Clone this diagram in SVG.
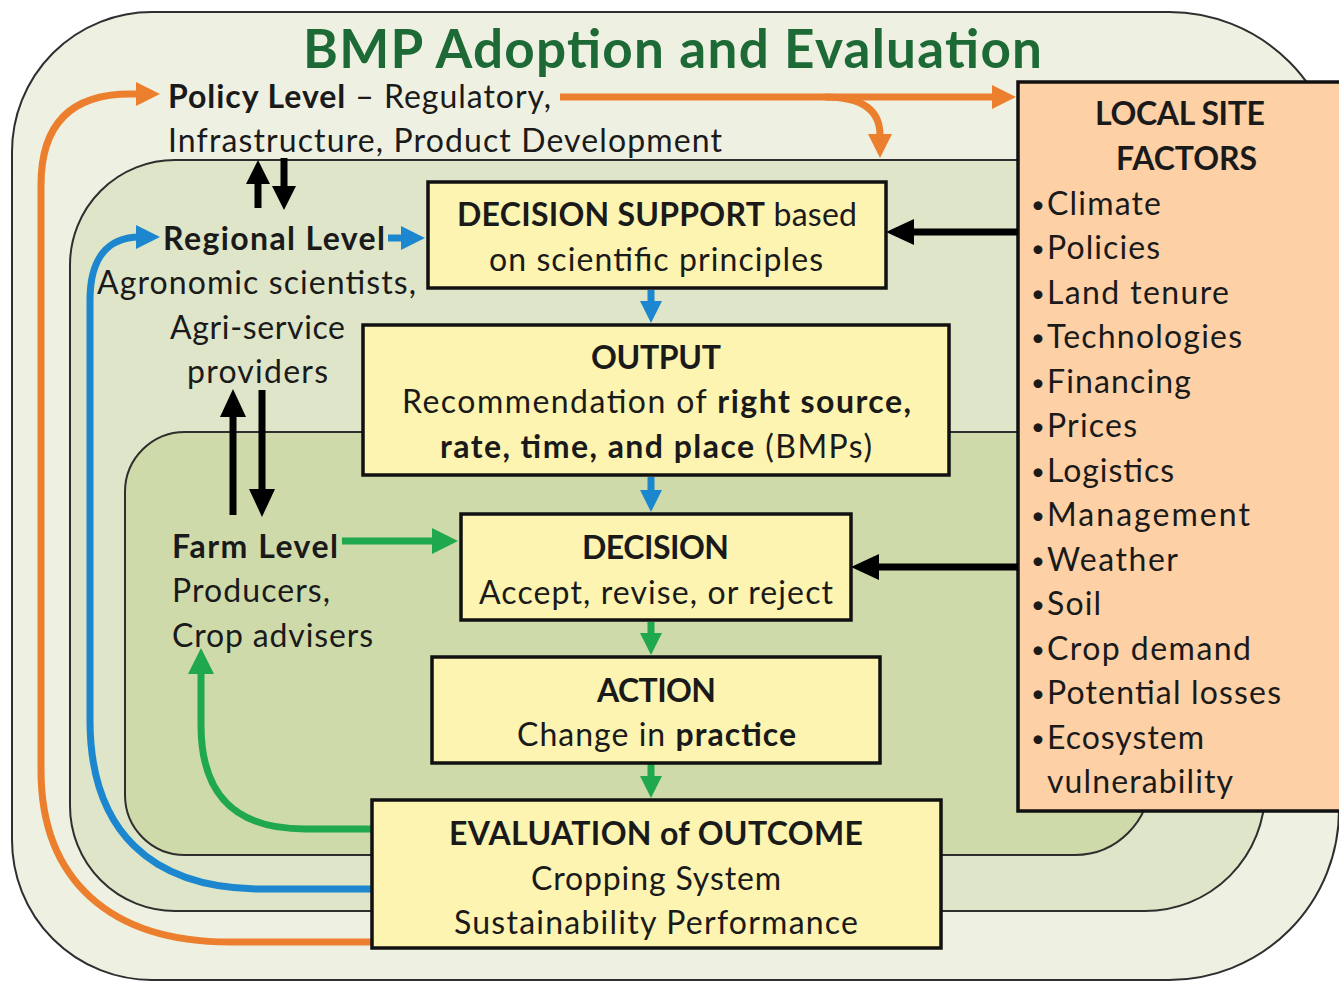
<svg xmlns="http://www.w3.org/2000/svg" width="1339" height="981" viewBox="0 0 1339 981">
  <style>
    .frame { stroke: #2e2e2e; stroke-width: 2; }
    .box { fill: #fcf4b0; stroke: #111; stroke-width: 3.5; }
    .site { fill: #fdd0a6; stroke: #111; stroke-width: 3.5; }
    .t { font-family: Lato, "Open Sans", "Liberation Sans", sans-serif; font-size: 32px; fill: #1a1a1a; }
    .b { font-weight: bold; }
    .title { font-family: Lato, "Open Sans", "Liberation Sans", sans-serif; font-size: 53px; font-weight: bold; fill: #1d6a36; }
    .bul { font-size: 24px; }
    .or { fill: none; stroke: #ec7f2e; stroke-width: 7; }
    .bl { fill: none; stroke: #1c87cf; stroke-width: 7; }
    .gr { fill: none; stroke: #1fa84c; stroke-width: 7; }
    .bk { fill: none; stroke: #000; stroke-width: 7; }
  </style>
  <defs>
    <marker id="ahOrange" viewBox="0 0 24 24" refX="12" refY="12" markerWidth="24" markerHeight="24" markerUnits="userSpaceOnUse" orient="auto">
      <path d="M0,0 L24,12 L0,24 Z" fill="#ec7f2e"/>
    </marker>
    <marker id="ahBlue" viewBox="0 0 24 24" refX="12" refY="12" markerWidth="24" markerHeight="24" markerUnits="userSpaceOnUse" orient="auto">
      <path d="M0,0 L24,12 L0,24 Z" fill="#1c87cf"/>
    </marker>
    <marker id="ahBlueSm" viewBox="0 0 22 22" refX="11" refY="11" markerWidth="22" markerHeight="22" markerUnits="userSpaceOnUse" orient="auto">
      <path d="M0,0 L22,11 L0,22 Z" fill="#1c87cf"/>
    </marker>
    <marker id="ahGreen" viewBox="0 0 26 26" refX="13" refY="13" markerWidth="26" markerHeight="26" markerUnits="userSpaceOnUse" orient="auto">
      <path d="M0,0 L26,13 L0,26 Z" fill="#1fa84c"/>
    </marker>
    <marker id="ahGreenSm" viewBox="0 0 22 22" refX="11" refY="11" markerWidth="22" markerHeight="22" markerUnits="userSpaceOnUse" orient="auto">
      <path d="M0,0 L22,11 L0,22 Z" fill="#1fa84c"/>
    </marker>
    <marker id="ahBlack" viewBox="0 0 28 26" refX="14" refY="13" markerWidth="28" markerHeight="26" markerUnits="userSpaceOnUse" orient="auto">
      <path d="M0,0 L28,13 L0,26 Z" fill="#000"/>
    </marker>
    <marker id="ahBlackSm" viewBox="0 0 24 24" refX="12" refY="12" markerWidth="24" markerHeight="24" markerUnits="userSpaceOnUse" orient="auto">
      <path d="M0,0 L24,12 L0,24 Z" fill="#000"/>
    </marker>
  </defs>

  <rect width="1339" height="981" fill="#ffffff"/>

  <!-- nested level frames: policy, regional, farm -->
  <g id="policy-frame">
    <path class="frame" fill="#eef0e1" d="M152,12 H1169 A170,170 0 0 1 1339,182 V810 A170,170 0 0 1 1169,980 H152 A140,140 0 0 1 12,840 V152 A140,140 0 0 1 152,12 Z"/>
  </g>
  <g id="regional-frame">
    <path class="frame" fill="#dee5c8" d="M175,160 H1145 A120,120 0 0 1 1265,280 V791 A120,120 0 0 1 1145,911 H175 A105,105 0 0 1 70,806 V265 A105,105 0 0 1 175,160 Z"/>
  </g>
  <g id="farm-frame">
    <path class="frame" fill="#cfdaab" d="M185,432 H1075 A75,75 0 0 1 1150,507 V780 A75,75 0 0 1 1075,855 H185 A60,60 0 0 1 125,795 V492 A60,60 0 0 1 185,432 Z"/>
  </g>

  <text class="title" x="303" y="68" textLength="739">BMP Adoption and Evaluation</text>

  <!-- level labels -->
  <g id="policy-level">
    <text class="t" x="168" y="108" textLength="383"><tspan class="b">Policy Level</tspan> – Regulatory,</text>
    <text class="t" x="168" y="152" textLength="554">Infrastructure, Product Development</text>
  </g>
  <g id="regional-level">
    <text class="t b" x="163" y="250" textLength="222">Regional Level</text>
    <text class="t" x="97" y="294" textLength="319">Agronomic scientists,</text>
    <text class="t" x="170" y="339" textLength="175">Agri-service</text>
    <text class="t" x="187" y="383" textLength="141">providers</text>
  </g>
  <g id="farm-level">
    <text class="t b" x="172" y="558" textLength="166">Farm Level</text>
    <text class="t" x="172" y="602" textLength="158">Producers,</text>
    <text class="t" x="172" y="647" textLength="201">Crop advisers</text>
  </g>

  <!-- local site factors -->
  <g id="local-site-factors">
    <rect class="site" x="1018" y="82" width="330" height="729"/>
    <text class="t b" x="1095" y="125" textLength="170">LOCAL SITE</text>
    <text class="t b" x="1116" y="170" textLength="141">FACTORS</text>
    <text class="t" x="1031" y="213"><tspan class="bul">•</tspan><tspan x="1047" y="215" textLength="114">Climate</tspan></text>
    <text class="t" x="1031" y="257"><tspan class="bul">•</tspan><tspan x="1047" y="259" textLength="113">Policies</tspan></text>
    <text class="t" x="1031" y="302"><tspan class="bul">•</tspan><tspan x="1047" y="304" textLength="182">Land tenure</tspan></text>
    <text class="t" x="1031" y="346"><tspan class="bul">•</tspan><tspan x="1047" y="348" textLength="195">Technologies</tspan></text>
    <text class="t" x="1031" y="391"><tspan class="bul">•</tspan><tspan x="1047" y="393" textLength="144">Financing</tspan></text>
    <text class="t" x="1031" y="435"><tspan class="bul">•</tspan><tspan x="1047" y="437" textLength="90">Prices</tspan></text>
    <text class="t" x="1031" y="480"><tspan class="bul">•</tspan><tspan x="1047" y="482" textLength="127">Logistics</tspan></text>
    <text class="t" x="1031" y="524"><tspan class="bul">•</tspan><tspan x="1047" y="526" textLength="203">Management</tspan></text>
    <text class="t" x="1031" y="569"><tspan class="bul">•</tspan><tspan x="1047" y="571" textLength="131">Weather</tspan></text>
    <text class="t" x="1031" y="613"><tspan class="bul">•</tspan><tspan x="1047" y="615" textLength="54">Soil</tspan></text>
    <text class="t" x="1031" y="658"><tspan class="bul">•</tspan><tspan x="1047" y="660" textLength="204">Crop demand</tspan></text>
    <text class="t" x="1031" y="702"><tspan class="bul">•</tspan><tspan x="1047" y="704" textLength="234">Potential losses</tspan></text>
    <text class="t" x="1031" y="747"><tspan class="bul">•</tspan><tspan x="1047" y="749" textLength="157">Ecosystem</tspan></text>
    <text class="t" x="1047" y="793" textLength="186">vulnerability</text>
  </g>

  <!-- connectors -->
  <g id="connectors">
    <path class="or" d="M372,942 L230,942 C110,942 41,880 41,770 L41,185 C41,125 70,94 130,94 L148,94" marker-end="url(#ahOrange)"/>
    <path class="or" d="M560,97 L1004,97" marker-end="url(#ahOrange)"/>
    <path class="or" d="M825,97 C862,97 880,110 880,135 L880,146" marker-end="url(#ahOrange)"/>
    <path class="bl" d="M372,889 L262,889 C150,889 90,830 90,720 L90,300 C90,258 108,237 140,237 L148,237" marker-end="url(#ahBlue)"/>
    <path class="bl" d="M388,238 L413,238" stroke-width="6" marker-end="url(#ahBlue)"/>
    <path class="bl" d="M651,290 L651,312" stroke-width="6" marker-end="url(#ahBlueSm)"/>
    <path class="bl" d="M651,477 L651,501" stroke-width="6" marker-end="url(#ahBlueSm)"/>
    <path class="gr" d="M342,541 L445,541" marker-end="url(#ahGreen)"/>
    <path class="gr" d="M651,622 L651,644" stroke-width="6" marker-end="url(#ahGreenSm)"/>
    <path class="gr" d="M651,764 L651,787" stroke-width="6" marker-end="url(#ahGreenSm)"/>
    <path class="gr" d="M372,829 L305,829 C235,829 201,795 201,725 L201,661" marker-end="url(#ahGreen)"/>
    <path class="bk" d="M1018,232 L900,232" stroke-width="6" marker-end="url(#ahBlack)"/>
    <path class="bk" d="M1018,567 L865,567" stroke-width="6" marker-end="url(#ahBlack)"/>
    <path class="bk" d="M258,208 L258,172" marker-end="url(#ahBlackSm)"/>
    <path class="bk" d="M284,158 L284,198" marker-end="url(#ahBlackSm)"/>
    <path class="bk" d="M233,515 L233,403" stroke-width="8" marker-end="url(#ahBlack)"/>
    <path class="bk" d="M262,390 L262,503" stroke-width="8" marker-end="url(#ahBlack)"/>
  </g>

  <!-- process boxes -->
  <g id="decision-support">
    <rect class="box" x="428" y="182" width="458" height="106"/>
    <text class="t" x="457" y="226" textLength="400"><tspan class="b">DECISION SUPPORT</tspan> based</text>
    <text class="t" x="489" y="271" textLength="334">on scientific principles</text>
  </g>
  <g id="output">
    <rect class="box" x="363" y="325" width="586" height="150"/>
    <text class="t b" x="591" y="369" textLength="130">OUTPUT</text>
    <text class="t" x="402" y="413" textLength="509">Recommendation of <tspan class="b">right source,</tspan></text>
    <text class="t" x="440" y="458" textLength="432"><tspan class="b">rate, time, and place</tspan> (BMPs)</text>
  </g>
  <g id="decision">
    <rect class="box" x="461" y="514" width="390" height="106"/>
    <text class="t b" x="582" y="559" textLength="147">DECISION</text>
    <text class="t" x="479" y="604" textLength="354">Accept, revise, or reject</text>
  </g>
  <g id="action">
    <rect class="box" x="432" y="657" width="448" height="106"/>
    <text class="t b" x="597" y="702" textLength="119">ACTION</text>
    <text class="t" x="517" y="746" textLength="279">Change in <tspan class="b">practice</tspan></text>
  </g>
  <g id="evaluation">
    <rect class="box" x="372" y="800" width="569" height="148"/>
    <text class="t b" x="449" y="845" textLength="414">EVALUATION of OUTCOME</text>
    <text class="t" x="531" y="890" textLength="250">Cropping System</text>
    <text class="t" x="454" y="934" textLength="404">Sustainability Performance</text>
  </g>
</svg>
